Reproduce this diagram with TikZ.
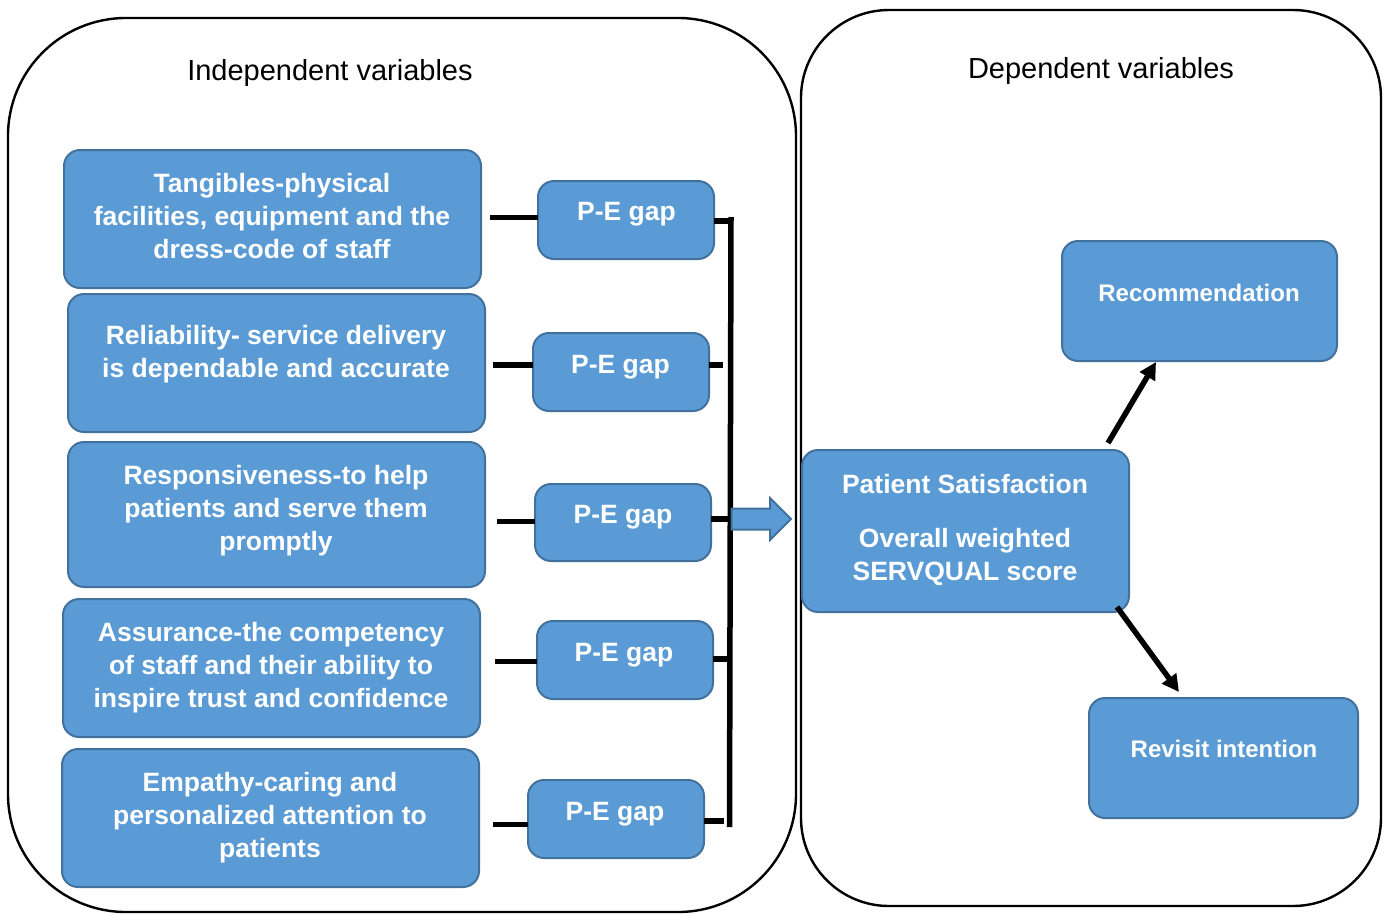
\documentclass[tikz,border=0pt]{standalone}
\usepackage{fontspec}
\setmainfont{Liberation Sans}
\usetikzlibrary{arrows.meta,fit,calc}
\definecolor{boxfill}{HTML}{5B9BD5}
\definecolor{boxline}{HTML}{41719C}
\begin{document}
\begin{tikzpicture}[x=1pt,y=-1pt,
  box/.style={draw=boxline, fill=boxfill, line width=2pt, rounded corners=16pt, inner sep=0pt, outer sep=0pt},
  frame/.style={draw=black, line width=2.4pt, inner sep=0pt, outer sep=0pt},
  lbl/.style={text=white, font=\fontsize{26.5}{33}\selectfont\bfseries, align=center, inner sep=0pt},
  slbl/.style={text=white, font=\fontsize{24}{30}\selectfont\bfseries, align=center, inner sep=0pt},
  ttl/.style={text=black, font=\fontsize{29}{34}\selectfont, inner sep=0pt},
  conn/.style={draw=black, line width=5.5pt},
  arr/.style={draw=black, line width=5.5pt, -{Triangle[length=17pt,width=17pt]}},
  blockarrow/.style={draw=boxline, fill=boxfill, line width=2pt, line join=miter}
]
\useasboundingbox (0,0) rectangle (1384,913);
% containers
\node[frame, rounded corners=118pt, fit={(8,18) (796,912)}] (indep) {};
\node[frame, rounded corners=88pt, fit={(801,10) (1381,906)}] (dep) {};
\node[ttl] (indepT) at (330,73) {Independent variables};
\node[ttl] (depT) at (1101,71) {Dependent variables};
% dimension boxes
\node[box, fit={(64,150) (481,288)}] (b1) {};
\node[box, fit={(68,294) (485,432)}] (b2) {};
\node[box, fit={(68,442) (485,587)}] (b3) {};
\node[box, fit={(63,599) (480,737)}] (b4) {};
\node[box, fit={(62,749) (479,887)}] (b5) {};
\node[lbl] (t1) at (272,216.5) {Tangibles-physical\\facilities, equipment and the\\dress-code of staff};
\node[lbl] (t2) at (276,354.5) {Reliability- service delivery\\is dependable and accurate};
\node[lbl] (t3) at (276,510.5) {Responsiveness-to help\\patients and serve them\\promptly};
\node[lbl] (t4) at (271,667.5) {Assurance-the competency\\of staff and their ability to\\inspire trust and confidence};
\node[lbl] (t5) at (270,817.5) {Empathy-caring and\\personalized attention to\\patients};
% gap boxes
\node[box, fit={(538,181) (714,259)}] (p1) {};
\node[box, fit={(533,333) (709,411)}] (p2) {};
\node[box, fit={(535,484) (711,561)}] (p3) {};
\node[box, fit={(537,621) (713,699)}] (p4) {};
\node[box, fit={(528,780) (704,858)}] (p5) {};
\node[lbl] (g1) at (626.5,214) {P-E gap};
\node[lbl] (g2) at (620.5,367) {P-E gap};
\node[lbl] (g3) at (623,517) {P-E gap};
\node[lbl] (g4) at (624,655) {P-E gap};
\node[lbl] (g5) at (615,814) {P-E gap};
% left connectors
\coordinate (l1) at (490,217.5);
\coordinate (l2) at (493,365);
\coordinate (l3) at (497,521.5);
\coordinate (l4) at (495,661.5);
\coordinate (l5) at (493,824.5);
\draw[conn] (l1) -- (p1.west |- l1);
\draw[conn] (l2) -- (p2.west |- l2);
\draw[conn] (l3) -- (p3.west |- l3);
\draw[conn] (l4) -- (p4.west |- l4);
\draw[conn] (l5) -- (p5.west |- l5);
% bus
\coordinate (busTop) at (731,217);
\coordinate (busBot) at (729.5,827);
\draw[conn] (busTop) -- (busBot);
\coordinate (r1) at (733,221);
\coordinate (r2) at (723,365);
\coordinate (r3) at (730,519);
\coordinate (r4) at (728,659);
\coordinate (r5) at (724,821);
\draw[conn] (p1.east |- r1) -- (r1);
\draw[conn] (p2.east |- r2) -- (r2);
\draw[conn] (p3.east |- r3) -- (r3);
\draw[conn] (p4.east |- r4) -- (r4);
\draw[conn] (p5.east |- r5) -- (r5);
% block arrow
\draw[blockarrow] (731.5,508.5) -- (770,508.5) -- (770,498) -- (791,519) -- (770,540) -- (770,529.5) -- (731.5,529.5) -- cycle;
% dependent side
\node[box, fit={(802,450) (1129,612)}] (ps) {};
\node[box, fit={(1062,241) (1337,361)}] (rec) {};
\node[box, fit={(1089,698) (1358,818)}] (rev) {};
\node[lbl] (pst) at (965,530) {Patient Satisfaction\\[21pt]Overall weighted\\SERVQUAL score};
\node[slbl] (rect) at (1199,293) {Recommendation};
\node[slbl] (revt) at (1224,749) {Revisit intention};
\draw[arr] ($(ps.north east)+(-21,-7)$) -- ($(rec.south west)+(94,1)$);
\draw[arr] ($(ps.south east)+(-12,-5)$) -- ($(rev.north west)+(90,-6)$);
\end{tikzpicture}
\end{document}
